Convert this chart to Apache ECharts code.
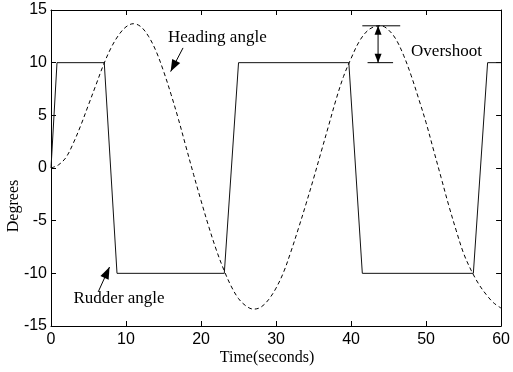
<!DOCTYPE html>
<html>
<head>
<meta charset="utf-8">
<script src="https://cdn.jsdelivr.net/npm/echarts@6/dist/echarts.min.js"></script>
<style>
  html, body { margin: 0; padding: 0; background: #fff; }
  #chart { width: 513px; height: 372px; }
</style>
</head>
<body>
<div id="chart"></div>
<script>
// Autopilot step response: rudder command (bang-bang) and resulting heading
const xTicks = [0, 10, 20, 30, 40, 50, 60];
const yTicks = [-15, -10, -5, 0, 5, 10, 15];

// Rudder angle corner points [time (s), degrees]
const rudderTime  = [0, 0.8, 7.1, 8.8, 23.1, 25.0, 39.7, 41.5, 56.3, 58.2, 60];
const rudderAngle = [0, 10, 10, -10, -10, 10, 10, -10, -10, 10, 10];

// Heading angle sampled every second, 0..60 s
const headingTime = [
  0, 1, 2, 3, 4, 5, 6, 7, 8, 9, 10, 11, 12, 13, 14, 15, 16, 17, 18, 19, 20,
  21, 22, 23, 24, 25, 26, 27, 28, 29, 30, 31, 32, 33, 34, 35, 36, 37, 38, 39, 40,
  41, 42, 43, 44, 45, 46, 47, 48, 49, 50, 51, 52, 53, 54, 55, 56, 57, 58, 59, 60
];
const headingAngle = [
  0, 0.3, 1.0, 2.4, 4.1, 6.0, 7.9, 9.8, 11.4, 12.6, 13.4,
  13.7, 13.4, 12.5, 11.1, 9.2, 7.0, 4.6, 2.0, -0.6, -3.1,
  -5.5, -7.7, -9.6, -11.2, -12.4, -13.1, -13.4, -13.2, -12.5, -11.4,
  -9.9, -7.9, -5.7, -3.4, -1.0, 1.5, 4.0, 6.5, 8.7, 10.4,
  11.9, 12.9, 13.4, 13.5, 13.1, 12.2, 10.7, 8.8, 6.6, 4.3,
  1.7, -0.9, -3.5, -5.9, -8.1, -9.7, -11.0, -12.0, -12.8, -13.3
];

// Overshoot marker: peak level, reference level, time of the double arrow
const overshootPeak = 13.5;
const overshootRef = 10;
const overshootTime = 43.6;

const rudderData = rudderTime.map((t, i) => [t, rudderAngle[i]]);
const headingData = headingTime.map((t, i) => [t, headingAngle[i]]);

const chart = echarts.init(document.getElementById('chart'), null, { renderer: 'canvas' });

const tickFont = { fontFamily: 'Liberation Sans, Arial, sans-serif', fontSize: 16, color: '#000' };
const serif = 'Liberation Serif, Times New Roman, serif';

const baseAxis = {
  min: 0, max: 60, interval: 10,
  axisLine: { show: true, onZero: false, lineStyle: { color: '#000', width: 1 } },
  axisTick: { show: true, inside: true, length: 5, lineStyle: { color: '#000' } },
  splitLine: { show: false }
};

chart.setOption({
  animation: false,
  backgroundColor: '#fff',
  grid: { left: 51, right: 8, top: 10, bottom: 46 },
  xAxis: [
    Object.assign({}, baseAxis, {
      type: 'value', position: 'bottom',
      axisLabel: Object.assign({ margin: 6, formatter: v => xTicks.includes(v) ? String(v) : '' }, tickFont)
    }),
    Object.assign({}, baseAxis, {
      type: 'value', position: 'top', axisLabel: { show: false }
    })
  ],
  yAxis: [
    Object.assign({}, baseAxis, {
      type: 'value', min: -15, max: 15, interval: 5, position: 'left',
      axisLabel: Object.assign({ margin: 4, formatter: v => yTicks.includes(v) ? String(v) : '' }, tickFont)
    }),
    Object.assign({}, baseAxis, {
      type: 'value', min: -15, max: 15, interval: 5, position: 'right', axisLabel: { show: false }
    })
  ],
  series: [
    {
      name: 'Rudder angle', type: 'line', data: rudderData, symbol: 'none',
      lineStyle: { color: '#111', width: 1 }
    },
    {
      name: 'Heading angle', type: 'line', data: headingData, symbol: 'none', smooth: 0.35,
      lineStyle: { color: '#000', width: 1, type: [4, 3] }
    }
  ]
});

// Annotations placed in data coordinates
function px(t, v) { return chart.convertToPixel({ xAxisIndex: 0, yAxisIndex: 0 }, [t, v]); }

function arrowHead(tip, from, len, half) {
  const dx = tip[0] - from[0], dy = tip[1] - from[1];
  const d = Math.hypot(dx, dy); const ux = dx / d, uy = dy / d;
  const bx = tip[0] - ux * len, by = tip[1] - uy * len;
  return {
    type: 'polygon',
    shape: { points: [tip, [bx - uy * half, by + ux * half], [bx + uy * half, by - ux * half]] },
    style: { fill: '#000' }, silent: true
  };
}
function arrow(from, to) {
  return [
    { type: 'line', shape: { x1: from[0], y1: from[1], x2: to[0], y2: to[1] }, style: { stroke: '#000', lineWidth: 1 }, silent: true },
    arrowHead(to, from, 12, 4.5)
  ];
}
function label(text, p, opts) {
  return {
    type: 'text', x: p[0], y: p[1], silent: true,
    style: Object.assign({ text: text, font: '17px ' + serif, fill: '#000', align: 'left', verticalAlign: 'middle' }, opts || {})
  };
}

const els = [];
// Heading angle label + arrow
els.push(label('Heading angle', px(15.6, 12.4)));
els.push(...arrow(px(17.6, 11.4), px(15.95, 9.15)));
// Rudder angle label + arrow
els.push(label('Rudder angle', px(3.0, -12.4)));
els.push(...arrow(px(6.3, -11.75), px(7.8, -9.4)));
// Overshoot bars and double arrow
const pTopL = px(41.5, overshootPeak), pTopR = px(46.55, overshootPeak);
const pRefL = px(42.2, overshootRef), pRefR = px(45.6, overshootRef);
els.push({ type: 'line', shape: { x1: pTopL[0], y1: pTopL[1], x2: pTopR[0], y2: pTopR[1] }, style: { stroke: '#000', lineWidth: 1 }, silent: true });
els.push({ type: 'line', shape: { x1: pRefL[0], y1: pRefL[1], x2: pRefR[0], y2: pRefR[1] }, style: { stroke: '#000', lineWidth: 1 }, silent: true });
const aTop = px(overshootTime, overshootPeak), aBot = px(overshootTime, overshootRef);
els.push({ type: 'line', shape: { x1: aTop[0], y1: aTop[1], x2: aBot[0], y2: aBot[1] }, style: { stroke: '#000', lineWidth: 1 }, silent: true });
els.push(arrowHead(aTop, aBot, 9, 3.5));
els.push(arrowHead(aBot, aTop, 9, 3.5));
els.push(label('Overshoot', px(48.0, 11.1)));
// Axis titles
els.push(label('Time(seconds)', [267, 358], { align: 'center', font: '16px ' + serif }));
els.push({
  type: 'text', x: 14, y: 206, rotation: Math.PI / 2, silent: true,
  style: { text: 'Degrees', font: '16px ' + serif, fill: '#000', align: 'center', verticalAlign: 'middle' }
});

chart.setOption({ graphic: { elements: els } });
</script>
</body>
</html>
